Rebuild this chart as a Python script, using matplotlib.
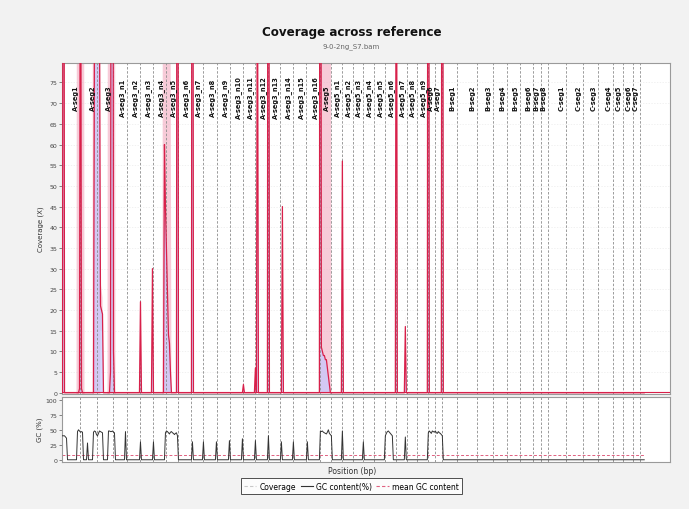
import numpy as np
import matplotlib
matplotlib.use("Agg")
import matplotlib.pyplot as plt

BIN = 50  # window size in bp

# Reference contigs, in order along the concatenated reference
contig_names = [
    "", "A-seg1", "A-seg2", "A-seg3",
    "A-seg3_n1", "A-seg3_n2", "A-seg3_n3", "A-seg3_n4", "A-seg3_n5", "A-seg3_n6",
    "A-seg3_n7", "A-seg3_n8", "A-seg3_n9", "A-seg3_n10", "A-seg3_n11", "A-seg3_n12",
    "A-seg3_n13", "A-seg3_n14", "A-seg3_n15", "A-seg3_n16",
    "A-seg5", "A-seg5_n1", "A-seg5_n2", "A-seg5_n3", "A-seg5_n4", "A-seg5_n5",
    "A-seg5_n6", "A-seg5_n7", "A-seg5_n8", "A-seg5_n9", "A-seg6", "A-seg7",
    "B-seg1", "B-seg2", "B-seg3", "B-seg4", "B-seg5", "B-seg6", "B-seg7", "B-seg8",
    "C-seg1", "C-seg2", "C-seg3", "C-seg4", "C-seg5", "C-seg6", "C-seg7",
]
contig_lengths = [
    900, 850, 800, 700, 650, 650, 650, 600, 650, 600, 700, 650, 650, 600, 650, 600,
    650, 650, 700, 550, 550, 550, 500, 550, 550, 550, 550, 500, 550, 350, 350, 750,
    1000, 800, 700, 650, 650, 400, 350, 900, 850, 750, 750, 500, 500, 350, 250,
]

# Windows with non-zero coverage: window index, mean coverage, std deviation
cov_bins = [1, 15, 16, 17, 18, 19, 20, 21, 31, 32, 33, 34, 35, 36, 37, 38, 39, 40,
            46, 47, 48, 49, 50, 51, 52, 78, 90, 101, 102, 103, 104, 105, 106, 107, 108,
            115, 130, 181, 193, 195, 206, 220,
            258, 259, 260, 261, 262, 263, 264, 265, 266, 267, 268,
            280, 334, 343, 366, 380]
cov_vals = [300, 0, 0, 1, 150, 1, 0, 0, 0, 90, 200, 200, 150, 120, 90, 21, 20, 19,
            0, 0, 5, 200, 300, 10, 0, 22, 30, 0, 60, 45, 35, 25, 14, 12, 5,
            300, 300, 2, 6, 120, 300, 45,
            300, 11, 10, 9, 9, 8, 8, 6, 4, 2, 0,
            56, 150, 16, 300, 300]
cov_sd = [20, 300, 300, 300, 300, 300, 300, 300, 300, 300, 300, 300, 300, 300, 300, 6, 5, 4,
          300, 300, 300, 300, 300, 300, 300, 2, 3, 300, 300, 300, 300, 300, 300, 300, 100,
          20, 20, 1, 2, 5, 20, 4,
          300, 300, 300, 300, 300, 300, 300, 300, 300, 300, 300,
          3, 5, 3, 20, 20]

# Windows with GC content (%)
gc_bins = [0, 1, 2, 3, 4,
           15, 16, 17, 18, 19, 20, 25,
           31, 32, 33, 34, 35, 36, 37, 38, 39, 40,
           46, 47, 48, 49, 50, 51, 52, 63, 78, 91,
           103, 104, 105, 106, 107, 108, 109, 110, 111, 112, 113, 114, 115,
           130, 141, 154, 167, 180, 193, 206, 219, 231, 245,
           258, 259, 260, 261, 262, 263, 264, 265, 266, 267, 268, 269,
           280, 301, 323, 324, 325, 326, 327, 328, 329, 330, 343,
           366, 367, 368, 369, 370, 371, 372, 373, 374, 375, 376, 377, 378, 379, 380]
gc_vals = [40, 40, 40, 38, 36,
           47, 50, 48, 46, 47, 46, 28,
           46, 48, 47, 42, 40, 44, 48, 47, 46, 45,
           48, 48, 47, 47, 48, 46, 45, 47, 30, 30,
           45, 48, 47, 45, 43, 46, 47, 45, 44, 42, 44, 45, 40,
           30, 30, 30, 32, 35, 32, 40, 30, 30, 30,
           48, 47, 48, 46, 45, 44, 43, 46, 50, 44, 42, 40,
           48, 30, 40, 44, 47, 48, 46, 44, 42, 40, 38,
           45, 48, 46, 44, 48, 47, 46, 48, 45, 44, 47, 45, 44, 42, 40]
mean_gc = 8.0

# Build the per-window series
total_len = sum(contig_lengths)
n_win = total_len // BIN
x = (np.arange(n_win) + 0.5) * BIN
cov = np.zeros(n_win)
sd = np.zeros(n_win)
gc = np.zeros(n_win)
cov[cov_bins] = cov_vals
sd[cov_bins] = cov_sd
gc[gc_bins] = gc_vals
starts = np.concatenate([[0], np.cumsum(contig_lengths)[:-1]])

BG = "#f2f2f2"
RED = "#d8204a"
PINK = "#f2a9bf"
BLUE = "#c4c8ff"
GRID = "#8c8c8c"

fig = plt.figure(figsize=(6.89, 5.10), dpi=100, facecolor=BG)
ax = fig.add_axes([0.090, 0.2255, 0.882, 0.649])
ax2 = fig.add_axes([0.090, 0.093, 0.882, 0.127])

xmax = 30400
for a in (ax, ax2):
    a.set_facecolor("white")
    a.set_xlim(0, xmax)
    a.set_xticks([])
    for s in a.spines.values():
        s.set_color("#9a9a9a")
        s.set_linewidth(0.8)
    a.tick_params(axis="y", labelsize=4.5, colors="#555555", length=2, width=0.5,
                  labelcolor="#444444", pad=1.5)

# Coverage panel
ax.set_ylim(-0.3, 79.7)
ax.set_yticks(np.arange(0, 80, 5))
for yv in np.arange(5, 80, 5):
    ax.axhline(yv, color="#ececec", lw=0.5, ls=(0, (2, 2)), zorder=0)
ax.fill_between(x, cov - sd, cov + sd, color=PINK, alpha=0.6, lw=0, zorder=1)
ax.fill_between(x, 0, cov, color=BLUE, alpha=0.7, lw=0, zorder=2)
for s0 in starts[1:]:
    ax.axvline(s0, color=GRID, lw=0.6, ls=(0, (3, 2)), zorder=3)
    ax2.axvline(s0, color=GRID, lw=0.6, ls=(0, (3, 2)), zorder=1)
ax.plot(x, cov, color=RED, lw=0.9, zorder=4)
ax.axhline(0.3, color=RED, lw=0.8, zorder=4)
for name, s0 in zip(contig_names, starts):
    if name:
        ax.text(s0 - 60, 71.5, name, rotation=90, ha="right", va="center",
                fontsize=4.8, fontweight="bold", color="#111111", zorder=5)
ax.set_ylabel("Coverage (X)", fontsize=5, color="#333333", labelpad=4)

# GC panel
ax2.set_ylim(-3, 105)
ax2.set_yticks([0, 25, 50, 75, 100])
ax2.plot(x, gc, color="#333333", lw=0.7, zorder=3)
ax2.plot([0, total_len], [mean_gc, mean_gc], color="#e06080", lw=0.7,
         ls=(0, (3, 2)), zorder=2)
ax2.set_ylabel("GC (%)", fontsize=5, color="#333333", labelpad=2)
ax2.set_xlabel("Position (bp)", fontsize=5.5, color="#333333", labelpad=2)
ax2.xaxis.set_label_coords(0.478, -0.07)

fig.text(0.51, 0.936, "Coverage across reference", ha="center", va="center",
         fontsize=8.6, fontweight="bold", color="#111111")
fig.text(0.51, 0.909, "9-0-2ng_S7.bam", ha="center", va="center",
         fontsize=5, color="#666666")

handles = [
    plt.Line2D([], [], color="#c8c8c8", lw=0.8, ls=(0, (3, 2))),
    plt.Line2D([], [], color="#333333", lw=0.8),
    plt.Line2D([], [], color="#e06080", lw=0.8, ls=(0, (3, 2))),
]
leg = fig.legend(handles, ["Coverage", "GC content(%)", "mean GC content"],
                 loc="center", bbox_to_anchor=(0.51, 0.045), ncol=3,
                 fontsize=5.5, frameon=True, fancybox=False, handlelength=1.6,
                 handletextpad=0.4, columnspacing=0.6, borderpad=0.4)
leg.get_frame().set_edgecolor("#222222")
leg.get_frame().set_linewidth(0.7)

fig.savefig("out.png", dpi=100, facecolor=BG)
